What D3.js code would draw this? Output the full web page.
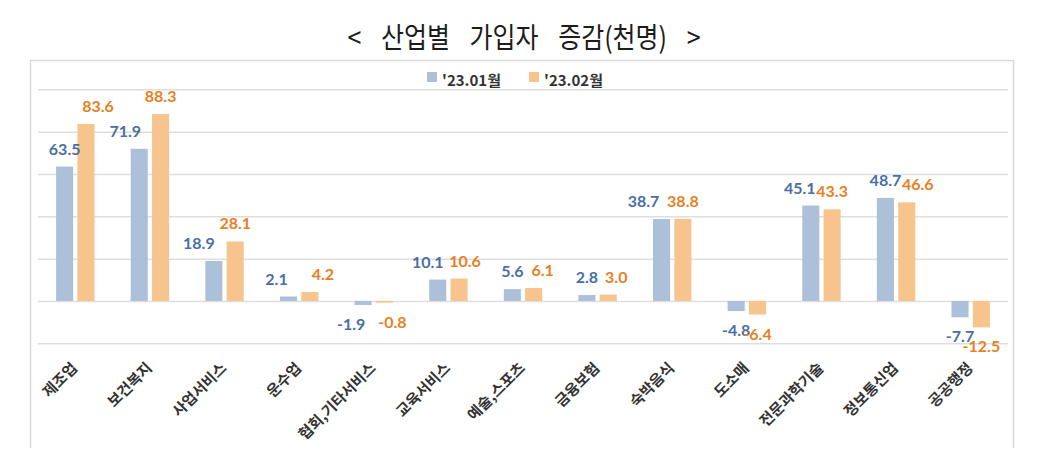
<!DOCTYPE html>
<html>
<head>
<meta charset="utf-8">
<script src="https://cdn.jsdelivr.net/npm/d3@7"></script>
<style>
  body { margin: 0; background: #fff; }
  svg { display: block; }
</style>
</head>
<body>
<svg width="1047" height="473"></svg>
<script>
  var categories = ["제조업", "보건복지", "사업서비스", "운수업", "협회,기타서비스", "교육서비스",
    "예술,스포츠", "금융보험", "숙박음식", "도소매", "전문과학기술", "정보통신업", "공공행정"];
  var seriesNames = ["'23.01월", "'23.02월"];
  var jan = [63.5, 71.9, 18.9, 2.1, -1.9, 10.1, 5.6, 2.8, 38.7, -4.8, 45.1, 48.7, -7.7];
  var feb = [83.6, 88.3, 28.1, 4.2, -0.8, 10.6, 6.1, 3.0, 38.8, -6.4, 43.3, 46.6, -12.5];
  var yTicks = [-20, 0, 20, 40, 60, 80, 100];

  // hand-moved value labels in the original chart (pixels, per category)
  var labelDx = [
    [0, -14, -15, -12, -12, -10, 0, 0, -18, 0, -11, 0, 0],
    [12, 0, 0, 13, 8, 6, 9, 8, 0, 0, 0, 11, 0]
  ];

  var barColors = ["#adc0da", "#f7c48d"];
  var labelColors = ["#4a6fa5", "#e8801f"];
  var font = "'Noto Sans CJK KR', 'Noto Sans', sans-serif";

  var svg = d3.select("svg");

  // frame round the plot
  svg.append("path")
      .attr("d", "M30.5,448 V60.5 H1013.5 V448")
      .attr("fill", "none")
      .attr("stroke", "#d9d9d9")
      .attr("stroke-width", 1.5);

  svg.append("text")
      .attr("transform", "translate(524,48) scale(1,1.15)")
      .attr("text-anchor", "middle")
      .attr("font-family", font)
      .attr("font-size", 25)
      .attr("fill", "#1c1c1c")
      .style("word-spacing", "14px")
      .text("< 산업별 가입자 증감(천명) >");

  var y = d3.scaleLinear().domain([-20, 100]).range([343.3, 89.3]);
  var x0 = d3.scaleBand().domain(categories).range([38, 1008]).paddingInner(0.485).paddingOuter(0.2425);
  var x1 = d3.scaleBand().domain([0, 1]).range([0, x0.bandwidth()]).paddingInner(0.2).paddingOuter(0);

  var yAxis = d3.axisLeft(y).tickValues(yTicks).tickSize(-(1008 - 38)).tickFormat("");
  var gy = svg.append("g").attr("transform", "translate(38,0)").call(yAxis);
  gy.select(".domain").remove();
  gy.selectAll(".tick line").attr("stroke", "#dedede").attr("stroke-width", 1.5);

  var rows = categories.map(function (c, i) {
    return { cat: c, vals: [{ s: 0, v: jan[i], i: i }, { s: 1, v: feb[i], i: i }] };
  });

  var groups = svg.selectAll("g.grp")
      .data(rows)
      .enter()
      .append("g")
      .attr("class", "grp")
      .attr("transform", function (d) { return "translate(" + x0(d.cat) + ",0)"; });

  groups.selectAll("rect")
      .data(function (d) { return d.vals; })
      .enter()
      .append("rect")
      .attr("x", function (d) { return x1(d.s); })
      .attr("width", x1.bandwidth())
      .attr("y", function (d) { return Math.min(y(d.v), y(0)); })
      .attr("height", function (d) { return Math.abs(y(d.v) - y(0)); })
      .attr("fill", function (d) { return barColors[d.s]; });

  groups.selectAll("text")
      .data(function (d) { return d.vals; })
      .enter()
      .append("text")
      .attr("x", function (d) { return x1(d.s) + x1.bandwidth() / 2 + labelDx[d.s][d.i]; })
      .attr("y", function (d) { return d.v >= 0 ? y(d.v) - 12 : y(d.v) + 25; })
      .attr("text-anchor", "middle")
      .attr("font-family", "Lato, 'Open Sans', sans-serif")
      .attr("font-weight", "bold")
      .attr("font-size", 16)
      .attr("fill", function (d) { return labelColors[d.s]; })
      .text(function (d) { return d.v.toFixed(1); });

  // category labels, slanted
  svg.selectAll("text.cat")
      .data(categories)
      .enter()
      .append("text")
      .attr("class", "cat")
      .attr("transform", function (c) {
        return "translate(" + (x0(c) + x0.bandwidth() / 2 + 3) + ",369) rotate(-45)";
      })
      .attr("text-anchor", "end")
      .attr("font-family", font)
      .attr("font-weight", "bold")
      .attr("font-size", 15)
      .attr("fill", "#333")
      .text(function (c) { return c; });

  // legend
  var legendX = [427, 529];
  var legend = svg.selectAll("g.leg")
      .data(seriesNames)
      .enter()
      .append("g")
      .attr("class", "leg")
      .attr("transform", function (s, i) { return "translate(" + legendX[i] + ",0)"; });

  legend.append("rect")
      .attr("y", 72)
      .attr("width", 10)
      .attr("height", 10)
      .attr("fill", function (s, i) { return barColors[i]; });

  legend.append("text")
      .attr("x", 15)
      .attr("y", 86)
      .attr("font-family", font)
      .attr("font-weight", "bold")
      .attr("font-size", 15)
      .attr("fill", "#333")
      .text(function (s) { return s; });
</script>
</body>
</html>
